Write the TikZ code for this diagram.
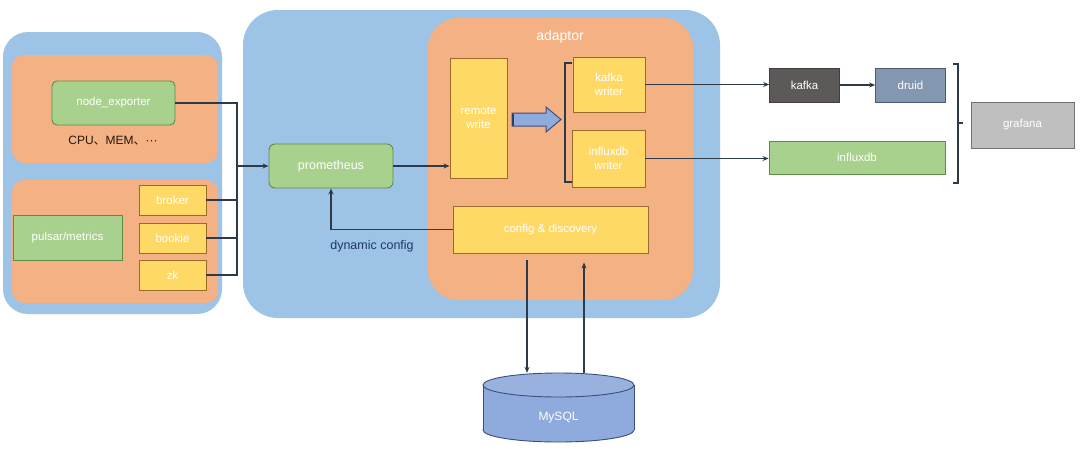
\documentclass[tikz,border=0pt]{standalone}
\usepackage{fontspec}
\setmainfont{Liberation Sans}
\newfontfamily\cjk{Noto Sans CJK SC}
\usetikzlibrary{arrows.meta}
\definecolor{pblue}{HTML}{9DC3E6}
\definecolor{porange}{HTML}{F4B183}
\definecolor{gfill}{HTML}{A9D18E}
\definecolor{gline}{HTML}{5E8C45}
\definecolor{yfill}{HTML}{FFD966}
\definecolor{yline}{HTML}{9C6A2A}
\definecolor{kfill}{HTML}{5E5959}
\definecolor{dfill}{HTML}{8497B0}
\definecolor{grfill}{HTML}{BFBFBF}
\definecolor{dbfill}{HTML}{8FAADC}
\definecolor{dbline}{HTML}{3A4F7A}
\definecolor{lcol}{HTML}{2F3A48}
\definecolor{navy}{HTML}{1F3864}
\tikzset{
  x=1pt, y=-1pt,
  bluepanel/.style={fill=pblue, draw=none, inner sep=0},
  orangepanel/.style={fill=porange, draw=none, inner sep=0},
  lbl/.style={text=white, font=\fontsize{11.5}{13.5}\selectfont, align=center, inner sep=0},
  greenbox/.style={lbl, fill=gfill, draw=gline, line width=0.9pt},
  yellowbox/.style={lbl, fill=yfill, draw=yline, line width=0.9pt},
  conn/.style={draw=lcol, line width=1.2pt},
  arr/.style={conn, -{Stealth[length=6pt,width=5pt]}},
}
\begin{document}
\begin{tikzpicture}
\useasboundingbox (0,0) rectangle (1080,448);
\fill[white] (0,0) rectangle (1080,448);
% panels
\node[bluepanel, rounded corners=25pt, minimum width=219, minimum height=282] (leftpanel) at (112.5,173) {};
\node[orangepanel, rounded corners=12pt, minimum width=206, minimum height=108] (toppanel) at (115,109) {};
\node[orangepanel, rounded corners=12pt, minimum width=206, minimum height=123] (botpanel) at (115,241.5) {};
\node[bluepanel, rounded corners=35pt, minimum width=477, minimum height=308] (midpanel) at (481.5,164) {};
\node[orangepanel, rounded corners=30pt, minimum width=265, minimum height=282] (adaptor) at (560.5,159) {};
\node[text=white, font=\fontsize{14}{16}\selectfont, inner sep=0] (adaptorlbl) at (560,37) {adaptor};
% left nodes
\node[greenbox, rounded corners=5pt, minimum width=123, minimum height=44] (ne) at (113.5,103) {node\_exporter};
\node[text=black!80!brown, font=\fontsize{12}{14}\selectfont, inner sep=0] (cpu) at (113,141) {CPU{\cjk 、}MEM{\cjk 、}···};
\node[greenbox, minimum width=109, minimum height=45] (pulsar) at (67.5,237.5) {pulsar/metrics};
\node[yellowbox, minimum width=67, minimum height=30] (broker) at (172.5,200) {broker};
\node[yellowbox, minimum width=67, minimum height=30] (bookie) at (172.5,238) {bookie};
\node[yellowbox, minimum width=67, minimum height=30] (zk) at (172.5,275) {zk};
% middle nodes
\node[greenbox, rounded corners=6pt, minimum width=124, minimum height=44, font=\fontsize{12.5}{14}\selectfont] (prom) at (331,166) {prometheus};
\node[yellowbox, minimum width=57, minimum height=120] (tall) at (478.5,118) {remote\\write};
\node[yellowbox, minimum width=72, minimum height=55] (kw) at (609,84.5) {kafka\\writer};
\node[yellowbox, minimum width=73, minimum height=57] (iw) at (608.5,158.5) {influxdb\\writer};
\node[yellowbox, minimum width=195, minimum height=47] (wide) at (550.5,229.5) {config \& discovery};
% block arrow
\node[inner sep=0, minimum width=49, minimum height=25] (blk) at (536.5,119.5) {};
\filldraw[fill=dbfill, draw=dbline, line width=1pt, line join=miter]
  (512,113) -- (546,113) -- (546,107) -- (561,119.5) -- (546,132) -- (546,126) -- (512,126) -- cycle;
\draw[dbline!80!black, line width=2pt] (513,113.5) -- (513,125.5);
% right nodes
\node[lbl, fill=kfill, draw=kfill!70!black, line width=0.7pt, minimum width=70, minimum height=34] (kafka) at (804.5,85) {kafka};
\node[lbl, fill=dfill, draw=dfill!60!black, line width=0.7pt, minimum width=70, minimum height=34] (druid) at (910.5,85) {druid};
\node[greenbox, minimum width=176, minimum height=33] (influx) at (857,157.5) {influxdb};
\node[lbl, fill=grfill, draw=black!55, line width=0.8pt, minimum width=103, minimum height=46] (grafana) at (1022.5,125) {grafana};
% MySQL cylinder
\node[inner sep=0, minimum width=151, minimum height=69] (mysql) at (558.5,407.5) {};
\fill[dbfill, draw=dbline, line width=0.9pt] (558.5,430) ellipse [x radius=75.5, y radius=12];
\fill[dbfill] (483,385) rectangle (634,430);
\draw[dbline, line width=0.9pt] (483,385) -- (483,430) (634,385) -- (634,430);
\fill[dbfill!92!white, draw=dbline, line width=0.9pt] (558.5,385) ellipse [x radius=75.5, y radius=12];
\node[lbl, font=\fontsize{12}{14}\selectfont] (mysqllbl) at (558.5,418) {MySQL};
% left bus
\coordinate (bustop) at (237,103);
\coordinate (busbot) at (237,275);
\coordinate (busmid) at (237,166);
\draw[conn] (ne.east) -- (bustop) -- (busbot) -- (zk.east);
\draw[conn] (broker.east) -- (broker.east -| bustop);
\draw[conn] (bookie.east) -- (bookie.east -| bustop);
\draw[arr] (busmid) -- (prom.west);
% prometheus to adaptor
\draw[arr] (prom.east) -- (prom.east -| tall.west);
% dynamic config
\draw[arr] (wide.west) -| (prom.south);
\node[text=navy, font=\fontsize{12.5}{14}\selectfont, inner sep=0] (dyn) at (372,246) {dynamic config};
% bracket in adaptor
\coordinate (b1) at (572,63);
\coordinate (b2) at (565,63);
\coordinate (b3) at (565,182);
\coordinate (b4) at (572,182);
\draw[conn] (b1) -- (b2) -- (b3) -- (b4);
% writers out
\draw[arr] (kw.east) -- (kw.east -| kafka.west);
\draw[arr] (kafka.east) -- (druid.west);
\draw[arr] (iw.east) -- (iw.east -| influx.west);
% right bracket
\coordinate (r1) at (953,64);
\coordinate (r2) at (958,64);
\coordinate (r3) at (958,183);
\coordinate (r4) at (953,183);
\coordinate (rm) at (958,123);
\coordinate (rt) at (963,123);
\draw[conn] (r1) -- (r2) -- (r3) -- (r4);
\draw[conn] (rm) -- (rt);
% MySQL links
\coordinate (mx1) at (527,0);
\coordinate (mx2) at (584,0);
\draw[arr, shorten <=7pt] (wide.south -| mx1) -- (mysql.north -| mx1);
\draw[arr, shorten >=9pt] (mysql.north -| mx2) -- (wide.south -| mx2);
\end{tikzpicture}
\end{document}
